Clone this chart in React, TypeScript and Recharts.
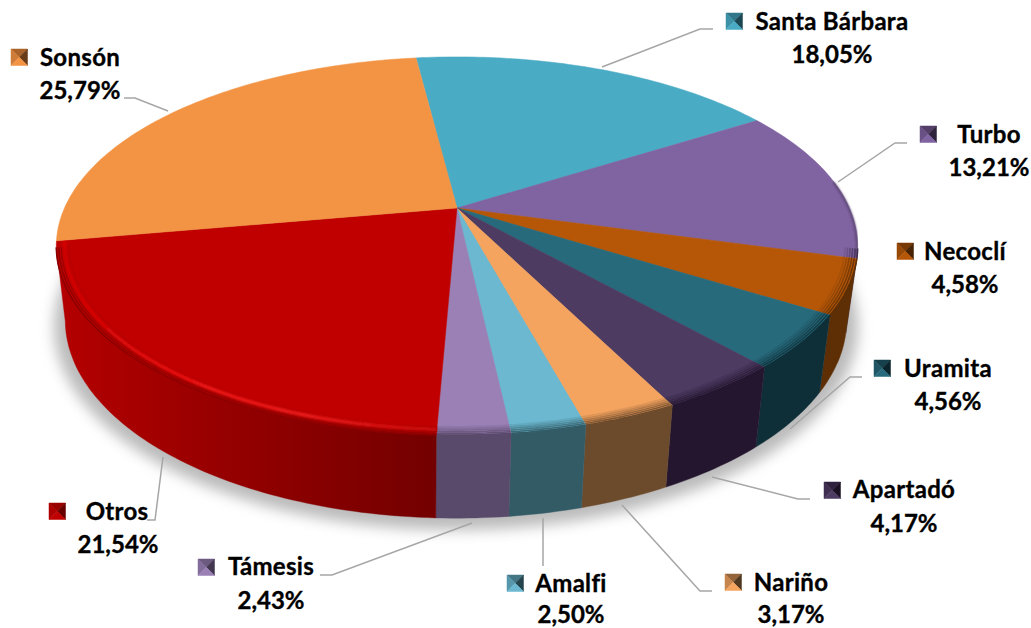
import React from "react";
import { PieChart, Pie } from "recharts";

// ---- data ----
const names = ["Santa Bárbara", "Turbo", "Necoclí", "Uramita", "Apartadó", "Nariño", "Amalfi", "Támesis", "Otros", "Sonsón"];
const shares = [18.05, 13.21, 4.58, 4.56, 4.17, 3.17, 2.5, 2.43, 21.54, 25.79];

// ---- styles ----
const topColors = ["#4aabc5", "#8063a1", "#b65708", "#276a7c", "#4d3b62", "#f5a45f", "#6bb8d0", "#9a80b5", "#c00000", "#f39445"];
const sideColors = ["#25606f", "#3f3050", "#5e2e04", "#0f2f38", "#24162f", "#6c4a2c", "#335b66", "#59496a", "#8a0000", "#8a5020"];

type Layout = { mx: number; my: number; nx: number; ny: number; px: number; py: number; line: number[][] };
const layouts: Layout[] = [
  { mx: 726, my: 13, nx: 832, ny: 30, px: 832, py: 63, line: [[602, 67], [700, 29], [713, 29]] },
  { mx: 920, my: 126, nx: 989, ny: 143, px: 989, py: 176, line: [[838, 182], [895, 143], [907, 143]] },
  { mx: 897, my: 243, nx: 965, ny: 260, px: 965, py: 293, line: [] },
  { mx: 874, my: 360, nx: 948, ny: 377, px: 948, py: 410, line: [[790, 429], [850, 377], [862, 377]] },
  { mx: 824, my: 482, nx: 904, ny: 498, px: 904, py: 532, line: [[712, 477], [798, 499], [810, 499]] },
  { mx: 725, my: 574, nx: 791, ny: 591, px: 791, py: 623, line: [[622, 505], [700, 591], [712, 591]] },
  { mx: 507, my: 575, nx: 571, ny: 592, px: 571, py: 623, line: [[543, 518], [543, 566]] },
  { mx: 198, my: 559, nx: 271, ny: 575, px: 271, py: 609, line: [[472, 523], [332, 575], [320, 575]] },
  { mx: 49, my: 503, nx: 117, ny: 520, px: 118, py: 553, line: [[163, 457], [155, 520], [147, 520]] },
  { mx: 11, my: 49, nx: 80, ny: 66, px: 80, py: 99, line: [[168, 111], [135, 98], [124, 98]] },
];

const chartData = names.map((name, i) => ({ name, value: shares[i] }));

// ---- perspective geometry ----
const K = 0.201;
const DEPTH_SCALE = 181.5;
const ELL = { cx: 456, cy: 246, rx: 402, ry: 189 };
const BOT = { cx: 455, cy: 320, rx: 392, ry: 198 };

const RAD = Math.PI / 180;
function project(cx: number, cy: number, a: number, deg: number, r = 1) {
  const u = Math.cos(deg * RAD) * r;
  const v = Math.sin(deg * RAD) * r;
  const w = 1 + K * v;
  return [cx + (a * u) / w, cy - (DEPTH_SCALE * v) / w];
}
function toBottom(p: number[]) {
  const ex = (p[0] - ELL.cx) / ELL.rx;
  const ey = (p[1] - ELL.cy) / ELL.ry;
  return [BOT.cx + BOT.rx * ex, BOT.cy + BOT.ry * ey];
}
function hex(c: string) {
  return [1, 3, 5].map((i) => parseInt(c.slice(i, i + 2), 16));
}
function mix(a: string, b: string, t: number) {
  const x = hex(a);
  const y = hex(b);
  return `rgb(${x.map((v, i) => Math.round(v + (y[i] - v) * t)).join(",")})`;
}
const pts = (list: number[][]) => list.map((p) => `${p[0].toFixed(1)},${p[1].toFixed(1)}`).join(" ");

function angles(start: number, end: number) {
  const out: number[] = [];
  const n = Math.max(2, Math.ceil(Math.abs(end - start)));
  for (let i = 0; i <= n; i++) out.push(start + ((end - start) * i) / n);
  return out;
}

function SliceShape(props: any) {
  const { cx, cy, outerRadius: a, startAngle, endAngle, index } = props;
  const top = topColors[index];
  const side = sideColors[index];
  const arc = angles(startAngle, endAngle);
  const rim = arc.map((d) => project(cx, cy, a, d));
  const front = rim.filter((p) => p[1] >= ELL.cy);
  const isOtros = names[index] === "Otros";
  const isTurbo = names[index] === "Turbo";
  const sideId = `side-${index}`;
  const rings: number[] = [0.97, 0.976, 0.982, 0.988, 0.994, 1];
  return (
    <g>
      <defs>
        {index === 0 && (
          <>
            <filter id="pieShadow" x="-10%" y="-10%" width="120%" height="130%">
              <feGaussianBlur stdDeviation="7" />
            </filter>
            <filter id="softGlow" x="-5%" y="-5%" width="110%" height="110%">
              <feGaussianBlur stdDeviation="1.2" />
            </filter>
          </>
        )}
        <linearGradient id={sideId} gradientUnits="userSpaceOnUse" x1={60} x2={437} y1={0} y2={0}>
          <stop offset="0" stopColor={isOtros ? "#b40000" : side} />
          <stop offset="0.4" stopColor={isOtros ? "#980000" : side} />
          <stop offset="1" stopColor={isOtros ? "#730000" : side} />
        </linearGradient>
        {isOtros && (
          <linearGradient id="otrosGlow" gradientUnits="userSpaceOnUse" x1={55} x2={437} y1={0} y2={0}>
            <stop offset="0" stopColor="#d40000" />
            <stop offset="0.4" stopColor="#f01414" />
            <stop offset="0.65" stopColor="#ee1c1c" />
            <stop offset="1" stopColor="#c80808" />
          </linearGradient>
        )}
      </defs>
      {index === 0 && (
        <ellipse cx={456} cy={326} rx={402} ry={204} fill="#777777" opacity={0.5} filter="url(#pieShadow)" />
      )}
      {front.length > 1 && (
        <polygon
          points={pts([...front, ...front.map(toBottom).reverse()])}
          fill={`url(#${sideId})`}
          stroke={`url(#${sideId})`}
          strokeWidth={0.4}
        />
      )}
      <polygon points={pts([[cx, cy], ...rim])} fill={top} stroke={top} strokeWidth={0.5} />
      {isTurbo && (
        <polyline
          points={pts(arc.map((d) => project(cx, cy, a, d, 0.998)).filter((p) => p[1] >= 182))}
          fill="none"
          stroke={mix(top, side, 0.75)}
          strokeWidth={1.6}
          filter="url(#softGlow)"
        />
      )}
      {front.length > 1 &&
        rings.map((r, i) => (
          <polyline
            key={r}
            points={pts(arc.map((d) => project(cx, cy, a, d, r)).filter((p) => p[1] >= ELL.cy))}
            fill="none"
            stroke={mix(top, side, (i + 1) / rings.length)}
            strokeWidth={1.6}
          />
        ))}
      {isOtros && (
        <polyline
          points={pts(arc.map((d) => project(cx, cy, a, d, 0.98)).filter((p) => p[1] >= ELL.cy - 6))}
          fill="none"
          stroke="url(#otrosGlow)"
          strokeWidth={3.5}
          filter="url(#softGlow)"
        />
      )}
    </g>
  );
}

function Marker({ x, y, top, side }: { x: number; y: number; top: string; side: string }) {
  const s = 16.5;
  const c = [x + s / 2, y + s / 2];
  const tl = [x, y];
  const tr = [x + s, y];
  const br = [x + s, y + s];
  const bl = [x, y + s];
  const tri = (list: number[][], fill: string) => (
    <polygon points={pts(list)} fill={fill} stroke={fill} strokeWidth={0.5} />
  );
  return (
    <g>
      {tri([tl, tr, c], mix(top, side, 0.7))}
      {tri([tr, br, c], mix(side, "#000000", 0.25))}
      {tri([bl, tl, c], mix(top, side, 0.35))}
      {tri([br, bl, c], top)}
    </g>
  );
}

const textStyle: React.CSSProperties = {
  fontFamily: "Lato, 'Open Sans', sans-serif",
  fontWeight: 700,
  fontSize: 24,
  fontVariantLigatures: "none",
  stroke: "#000",
  strokeWidth: 0.35,
};

function SliceLabel(props: any) {
  const { index, name, value } = props;
  const l = layouts[index];
  return (
    <g>
      {l.line.length > 0 && <polyline points={pts(l.line)} fill="none" stroke="#a6a6a6" strokeWidth={1.5} />}
      <Marker x={l.mx} y={l.my} top={topColors[index]} side={sideColors[index]} />
      <text x={l.nx} y={l.ny} textAnchor="middle" fill="#000" style={{ ...textStyle, letterSpacing: 0.3 }}>{name}</text>
      <text x={l.px} y={l.py} textAnchor="middle" fill="#000" style={textStyle}>
        {`${Number(value).toFixed(2).replace(".", ",")}%`}
      </text>
    </g>
  );
}

export default function App() {
  return (
    <div style={{ position: "absolute", left: 0, top: 0, width: 1031, height: 628, background: "#fff" }}>
      <PieChart width={1031} height={628} margin={{ top: 0, right: 0, bottom: 0, left: 0 }}>
        <Pie
          data={chartData}
          dataKey="value"
          nameKey="name"
          cx={457}
          cy={208}
          innerRadius={0}
          outerRadius={392.5}
          startAngle={97.2}
          endAngle={-262.8}
          paddingAngle={0}
          stroke="none"
          isAnimationActive={false}
          shape={SliceShape}
          label={SliceLabel}
          labelLine={false}
        />
      </PieChart>
    </div>
  );
}
